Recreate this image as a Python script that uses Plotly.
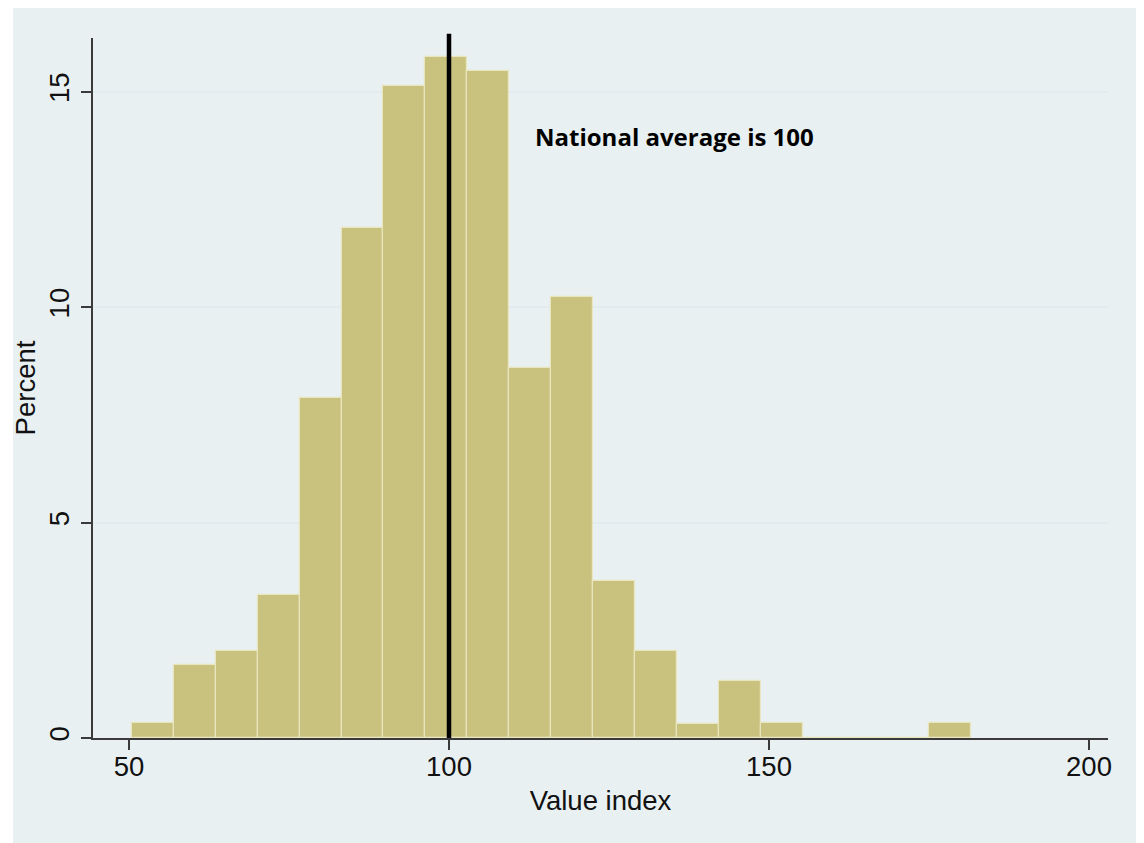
import plotly.graph_objects as go

# ---- data ----
bin_start = 50.42          # left edge of first histogram bin (Value index)
bin_width = 6.557          # histogram bin width
percent = [0.34, 1.69, 2.02, 3.32, 7.89, 11.84, 15.14, 15.80, 15.49, 8.58,
           10.23, 3.65, 2.02, 0.33, 1.32, 0.34, 0.0, 0.0, 0.0, 0.34]
national_average = 100
x_ticks = [50, 100, 150, 200]
y_ticks = [0, 5, 10, 15]
annotation_text = "National average is 100"
x_title = "Value index"
y_title = "Percent"

# ---- derived ----
centers = [bin_start + bin_width * (i + 0.5) for i in range(len(percent))]

BAR = "#C9C27F"
BAR_EDGE = "#E9E5BF"
AXIS = "#3a3a3a"
BG = "#E8F0F2"
GRID = "#E2EBEE"
FONT = "Arial, Liberation Sans, sans-serif"
FS = 27.5

x_range = [44.375, 202.97]
y_range = [0, 16.25]

fig = go.Figure()
fig.add_trace(go.Bar(
    x=centers, y=percent, width=[bin_width] * len(percent),
    marker=dict(color=BAR, line=dict(color=BAR_EDGE, width=1.2)),
    hoverinfo="x+y", showlegend=False,
))

fig.update_layout(
    width=1136, height=835,
    margin=dict(l=85, r=36, t=30, b=105, pad=0),
    paper_bgcolor="white",
    plot_bgcolor="white",
    font=dict(family=FONT, size=FS, color="#111"),
    bargap=0,
    shapes=[
        dict(type="rect", xref="paper", yref="paper",
             x0=-0.0788, x1=1.0305, y0=-0.151, y1=1.043,
             fillcolor=BG, line=dict(width=0), layer="below"),
        dict(type="line", xref="x", yref="paper",
             x0=national_average, x1=national_average, y0=0, y1=1.006,
             line=dict(color="black", width=4.5), layer="above"),
    ],
    annotations=[
        dict(x=113.1, y=13.97, xref="x", yref="y", text=annotation_text,
             showarrow=False, xanchor="left", yanchor="middle",
             font=dict(family="Open Sans, Lato, sans-serif", size=24,
                       color="black", weight="bold")),
    ],
)

fig.update_xaxes(
    range=x_range, tickvals=x_ticks, ticktext=[str(v) for v in x_ticks],
    showgrid=False, zeroline=False,
    showline=True, linecolor=AXIS, linewidth=2,
    ticks="outside", ticklen=10, tickwidth=2, tickcolor=AXIS,
    ticklabelstandoff=-7,
    tickfont=dict(size=FS, family=FONT, color="#111"),
    title=dict(text=x_title, font=dict(size=FS, family=FONT, color="#111"), standoff=10),
)
fig.update_yaxes(
    range=y_range, tickvals=y_ticks, ticktext=[str(v) for v in y_ticks],
    showgrid=True, gridcolor=GRID, gridwidth=1.5, zeroline=False,
    showline=True, linecolor=AXIS, linewidth=2,
    ticks="outside", ticklen=10, tickwidth=2, tickcolor=AXIS,
    ticklabelstandoff=1,
    tickangle=-90,
    tickfont=dict(size=FS, family=FONT, color="#111"),
    title=dict(text=y_title, font=dict(size=FS, family=FONT, color="#111"), standoff=0),
)

fig.write_html("out.html")
